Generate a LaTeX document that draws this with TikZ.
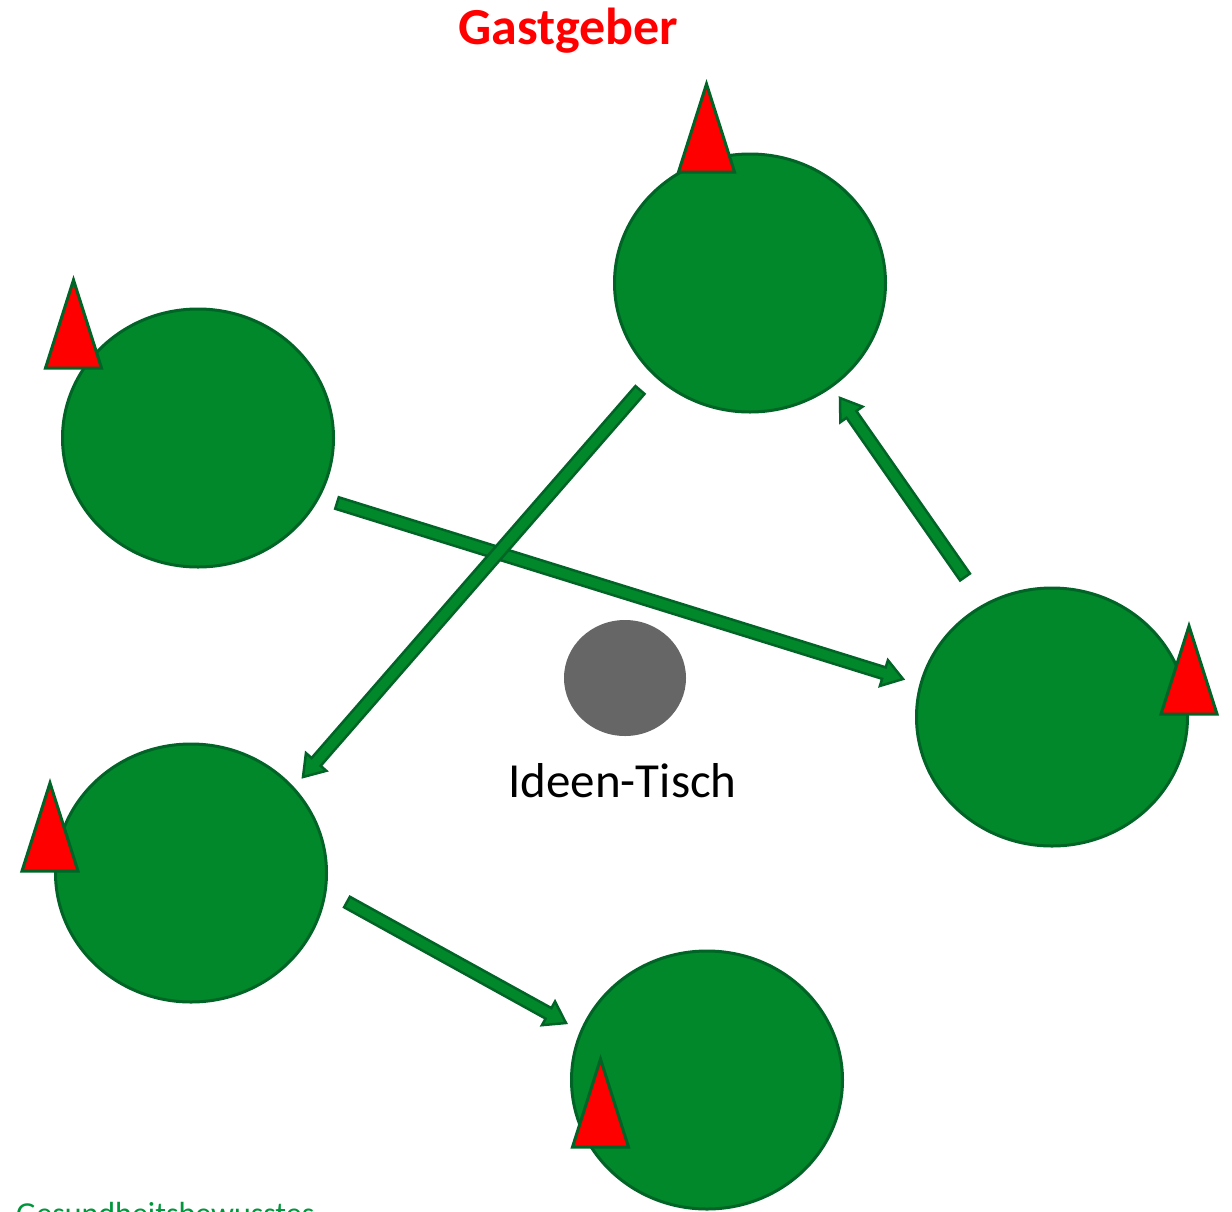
\documentclass[tikz,border=0pt]{standalone}
\usepackage{fontspec}
\setmainfont{Carlito}
\usetikzlibrary{shapes.geometric,calc}
\definecolor{tablegreen}{RGB}{0,136,43}
\definecolor{rimgreen}{RGB}{0,100,38}
\definecolor{hostred}{RGB}{255,0,0}
\definecolor{notegreen}{RGB}{0,150,60}
\definecolor{centregray}{RGB}{102,102,102}

% block arrow from #1 to #2 (tip at #2)
\newcommand\flowarrow[2]{%
  \coordinate (#1neck) at ($(#2)!20pt!(#1)$);
  \path[flow] ($(#1)!6pt!90:(#2)$) -- ($(#1neck)!6pt!90:(#2)$)
    -- ($(#1neck)!13.5pt!90:(#2)$) -- (#2)
    -- ($(#1neck)!13.5pt!-90:(#2)$) -- ($(#1neck)!6pt!-90:(#2)$)
    -- ($(#1)!6pt!-90:(#2)$) -- cycle;}

% host marker: red triangle standing on base centre #1
\newcommand\hostflag[1]{%
  \path[host] ($(#1)+(-28,0)$) -- ($(#1)+(0,-88)$) -- ($(#1)+(28,0)$) -- cycle;}

\begin{document}
\begin{tikzpicture}[x=1pt,y=-1pt,
  table/.style={ellipse, fill=tablegreen, draw=rimgreen, line width=3pt,
    minimum width=271pt, minimum height=258pt, inner sep=0pt},
  flow/.style={fill=tablegreen, draw=rimgreen, line width=2.5pt, line join=miter},
  host/.style={fill=hostred, draw=rimgreen, line width=3pt, line join=miter},
]
\clip (0,0) rectangle (1232,1211);
\fill[white] (0,0) rectangle (1232,1211);

% title
\node[anchor=base, text=hostred, font=\bfseries\fontsize{52}{62}\selectfont, inner sep=0pt]
  (title) at (568.5,44) {Gastgeber};

% tables
\node[table] (ttop)   at (750,283)  {};
\node[table] (tleft)  at (198,438)  {};
\node[table] (tright) at (1052,717) {};
\node[table] (tlow)   at (191,873)  {};
\node[table] (tbot)   at (707,1080) {};

% idea table in the middle
\node[ellipse, fill=centregray, minimum width=122pt, minimum height=116pt, inner sep=0pt]
  (idea) at (625,678) {};
\node[anchor=base, font=\fontsize{49}{58}\selectfont, inner sep=0pt]
  (idealabel) at (622.5,797) {Ideen-Tisch};

% arrow end points
\coordinate (aS) at (337,503);  \coordinate (aE) at (903,679);
\coordinate (bS) at (965,577);  \coordinate (bE) at (840,398);
\coordinate (cS) at (347,902);  \coordinate (cE) at (566,1023);
\coordinate (dS) at (640,390);  \coordinate (dE) at (303,777);

\flowarrow{aS}{aE}
\flowarrow{bS}{bE}
\flowarrow{cS}{cE}
\flowarrow{dS}{dE}

% hosts
\coordinate (htop)   at (706.5,172);
\coordinate (hleft)  at (73.5,368);
\coordinate (hright) at (1189,714);
\coordinate (hlow)   at (50,871);
\coordinate (hbot)   at (600.5,1147);
\hostflag{htop}
\hostflag{hleft}
\hostflag{hright}
\hostflag{hlow}
\hostflag{hbot}

% footer note, running off the lower edge
\node[anchor=base west, text=notegreen, font=\fontsize{32}{38}\selectfont, inner sep=0pt]
  (note) at (16,1224) {Gesundheitsbewusstes};
\end{tikzpicture}
\end{document}
